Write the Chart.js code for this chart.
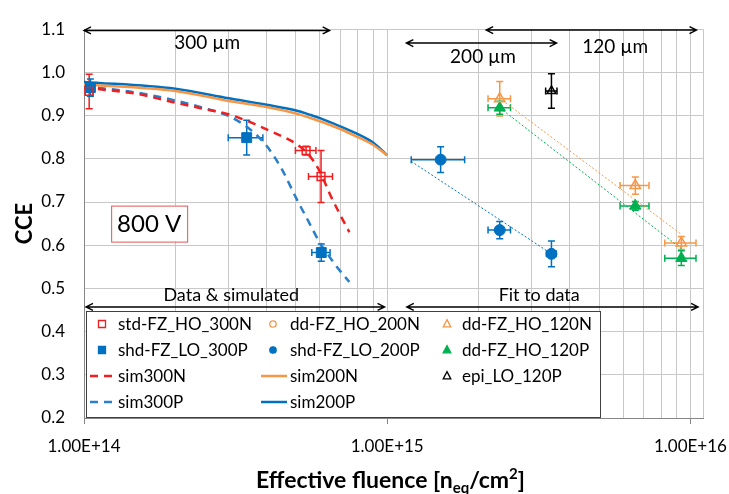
<!DOCTYPE html>
<html>
<head>
<meta charset="utf-8">
<script src="https://cdn.jsdelivr.net/npm/chart.js@4.4.0/dist/chart.umd.min.js"></script>
<style>
  html, body { margin: 0; padding: 0; background: #fff; }
  #wrap { width: 729px; height: 494px; position: relative; }
</style>
</head>
<body>
<div id="wrap"><canvas id="cce"></canvas></div>
<script>
// Werte (x = Fluenz, y = CCE)
const std300N_x  = [1.04e14, 5.4e14, 6.05e14];
const std300N_y  = [0.956, 0.819, 0.759];
const std300N_ex = [0.03e14, 0.42e14, 0.55e14];
const std300N_ey = [0.04, 0.01, 0.06];

const shd300P_x  = [1.05e14, 3.44e14, 6.06e14];
const shd300P_y  = [0.965, 0.849, 0.583];
const shd300P_ex = [0.03e14, 0.45e14, 0.42e14];
const shd300P_ey = [0.02, 0.04, 0.02];

const dd200N_x = [];
const dd200N_y = [];

const shd200P_x  = [1.5e15, 2.35e15, 3.48e15];
const shd200P_y  = [0.798, 0.635, 0.580];
const shd200P_ex = [0.3e15, 0.2e15, 0.13e15];
const shd200P_ey = [0.03, 0.02, 0.03];

const dd120N_x  = [2.35e15, 6.58e15, 9.33e15];
const dd120N_y  = [0.939, 0.738, 0.605];
const dd120N_ex = [0.2e15, 0.72e15, 1.1e15];
const dd120N_ey = [0.04, 0.02, 0.015];

const dd120P_x  = [2.35e15, 6.58e15, 9.33e15];
const dd120P_y  = [0.918, 0.691, 0.570];
const dd120P_ex = [0.2e15, 0.72e15, 1.1e15];
const dd120P_ey = [0.015, 0.01, 0.017];

const epi120P_x  = [3.48e15];
const epi120P_y  = [0.957];
const epi120P_ex = [0.15e15];
const epi120P_ey = [0.04];

// Simulationskurven
const sim300_x  = [1e14, 1.5e14, 2e14, 2.5e14, 3e14, 3.5e14, 4e14, 4.5e14, 5e14, 5.5e14, 6e14, 6.5e14, 7e14, 7.5e14];
const sim300N_y = [0.965, 0.950, 0.930, 0.915, 0.903, 0.886, 0.868, 0.852, 0.835, 0.810, 0.770, 0.715, 0.670, 0.630];
const sim300P_y = [0.968, 0.953, 0.935, 0.917, 0.899, 0.870, 0.830, 0.775, 0.710, 0.655, 0.605, 0.570, 0.540, 0.515];
const sim200_x  = [1e14, 2e14, 3e14, 4e14, 5e14, 6e14, 7e14, 8e14, 9e14, 1e15];
const sim200N_y = [0.972, 0.957, 0.934, 0.920, 0.905, 0.887, 0.869, 0.850, 0.832, 0.808];
const sim200P_y = [0.978, 0.962, 0.940, 0.925, 0.912, 0.894, 0.875, 0.857, 0.837, 0.808];

// lineare Fits (im Log-Plot)
const fit200P_x = [1.2e15, 3.48e15];
const fit200P_y = [0.794, 0.580];
const fit120N_x = [2.4e15, 9.33e15];
const fit120N_y = [0.935, 0.625];
const fit120P_x = [2.35e15, 9.33e15];
const fit120P_y = [0.918, 0.592];

// Achsen
const yTicks = [0.2, 0.3, 0.4, 0.5, 0.6, 0.7, 0.8, 0.9, 1.0, 1.1];
const xDecades = [1e14, 1e15, 1e16];
const xDecadeLabels = ['1.00E+14', '1.00E+15', '1.00E+16'];

function pts(xs, ys) {
  return xs.map((x, i) => ({ x: x, y: ys[i] }));
}

// Minor-Gitter 2..9 pro Dekade + Rand bei 1.1E16
const xTickValues = [];
[1e14, 1e15].forEach(d => { for (let m = 1; m <= 9; m++) xTickValues.push(m * d); });
xTickValues.push(1e16, 1.1e16);

const RED = '#f01e1e', BLUE = '#0070c0', BLUE2 = '#2a7fcb', ORANGE = '#f79646', GREEN = '#00b050';

const datasets = [
  { label: 'std-FZ_HO_300N', data: pts(std300N_x, std300N_y), errX: std300N_ex, errY: std300N_ey,
    pointStyle: 'rect', pointRadius: 5.5, borderColor: RED, backgroundColor: 'rgba(0,0,0,0)', pointBorderWidth: 1.5, showLine: false },
  { label: 'dd-FZ_HO_200N', data: pts(dd200N_x, dd200N_y),
    pointStyle: 'circle', pointRadius: 4, borderColor: ORANGE, backgroundColor: 'rgba(0,0,0,0)', pointBorderWidth: 1.5, showLine: false },
  { label: 'dd-FZ_HO_120N', data: pts(dd120N_x, dd120N_y), errX: dd120N_ex, errY: dd120N_ey,
    pointStyle: 'triangle', pointRadius: 6, borderColor: ORANGE, backgroundColor: 'rgba(0,0,0,0)', pointBorderWidth: 1.5, showLine: false },
  { label: 'shd-FZ_LO_300P', data: pts(shd300P_x, shd300P_y), errX: shd300P_ex, errY: shd300P_ey,
    pointStyle: 'rect', pointRadius: 7, borderColor: BLUE, backgroundColor: BLUE, pointBorderWidth: 1, showLine: false },
  { label: 'shd-FZ_LO_200P', data: pts(shd200P_x, shd200P_y), errX: shd200P_ex, errY: shd200P_ey,
    pointStyle: 'circle', pointRadius: 5.5, borderColor: BLUE, backgroundColor: BLUE, pointBorderWidth: 1, showLine: false },
  { label: 'dd-FZ_HO_120P', data: pts(dd120P_x, dd120P_y), errX: dd120P_ex, errY: dd120P_ey,
    pointStyle: 'triangle', pointRadius: 6.5, borderColor: GREEN, backgroundColor: GREEN, pointBorderWidth: 1, showLine: false },
  { label: 'sim300N', data: pts(sim300_x, sim300N_y), borderColor: RED, borderWidth: 2.5, borderDash: [8, 6],
    pointRadius: 0, showLine: true, cubicInterpolationMode: 'monotone' },
  { label: 'sim200N', data: pts(sim200_x, sim200N_y), borderColor: ORANGE, borderWidth: 2.5,
    pointRadius: 0, showLine: true, cubicInterpolationMode: 'monotone' },
  { label: 'epi_LO_120P', data: pts(epi120P_x, epi120P_y), errX: epi120P_ex, errY: epi120P_ey,
    pointStyle: 'triangle', pointRadius: 5, borderColor: '#000', backgroundColor: 'rgba(0,0,0,0)', pointBorderWidth: 1.5, showLine: false },
  { label: 'sim300P', data: pts(sim300_x, sim300P_y), borderColor: BLUE2, borderWidth: 2.5, borderDash: [8, 6],
    pointRadius: 0, showLine: true, cubicInterpolationMode: 'monotone' },
  { label: 'sim200P', data: pts(sim200_x, sim200P_y), borderColor: BLUE, borderWidth: 2.5,
    pointRadius: 0, showLine: true, cubicInterpolationMode: 'monotone' },
  { label: 'fit200P', data: pts(fit200P_x, fit200P_y), borderColor: BLUE, borderWidth: 1, borderDash: [2, 2],
    pointRadius: 0, showLine: true, noLegend: true },
  { label: 'fit120N', data: pts(fit120N_x, fit120N_y), borderColor: ORANGE, borderWidth: 1, borderDash: [2, 2],
    pointRadius: 0, showLine: true, noLegend: true },
  { label: 'fit120P', data: pts(fit120P_x, fit120P_y), borderColor: GREEN, borderWidth: 1, borderDash: [2, 2],
    pointRadius: 0, showLine: true, noLegend: true }
];

// Reihenfolge wie in der Excel-Legende (zeilenweise, 3 Spalten)
const legendOrder = ['std-FZ_HO_300N', 'dd-FZ_HO_200N', 'dd-FZ_HO_120N',
                     'shd-FZ_LO_300P', 'shd-FZ_LO_200P', 'dd-FZ_HO_120P',
                     'sim300N', 'sim200N', 'epi_LO_120P',
                     'sim300P', 'sim200P'];

const FONT = 'Lato, "Open Sans", sans-serif';

function marker(ctx, style, x, y, r, stroke, fill, lw) {
  ctx.save();
  ctx.lineWidth = lw;
  ctx.strokeStyle = stroke;
  ctx.fillStyle = fill;
  ctx.beginPath();
  if (style === 'rect') {
    ctx.rect(x - r, y - r, 2 * r, 2 * r);
  } else if (style === 'circle') {
    ctx.arc(x, y, r, 0, Math.PI * 2);
  } else {
    ctx.moveTo(x, y - r * 1.15);
    ctx.lineTo(x + r, y + r * 0.75);
    ctx.lineTo(x - r, y + r * 0.75);
    ctx.closePath();
  }
  ctx.fill();
  ctx.stroke();
  ctx.restore();
}

function arrow(ctx, x1, x2, y) {
  ctx.save();
  ctx.strokeStyle = '#000';
  ctx.lineWidth = 1.4;
  ctx.beginPath();
  ctx.moveTo(x1, y); ctx.lineTo(x2, y);
  ctx.moveTo(x1 + 7, y - 3.5); ctx.lineTo(x1, y); ctx.lineTo(x1 + 7, y + 3.5);
  ctx.moveTo(x2 - 7, y - 3.5); ctx.lineTo(x2, y); ctx.lineTo(x2 - 7, y + 3.5);
  ctx.stroke();
  ctx.restore();
}

const extras = {
  id: 'extras',
  beforeDatasetsDraw(chart) {
    // Fehlerbalken
    const ctx = chart.ctx, sx = chart.scales.x, sy = chart.scales.y;
    chart.data.datasets.forEach(ds => {
      if (!ds.errX) return;
      ctx.save();
      ctx.strokeStyle = ds.borderColor;
      ctx.lineWidth = 1.5;
      ds.data.forEach((p, i) => {
        const px = sx.getPixelForValue(p.x), py = sy.getPixelForValue(p.y);
        const x1 = sx.getPixelForValue(p.x - ds.errX[i]), x2 = sx.getPixelForValue(p.x + ds.errX[i]);
        const y1 = sy.getPixelForValue(p.y + ds.errY[i]), y2 = sy.getPixelForValue(p.y - ds.errY[i]);
        ctx.beginPath();
        ctx.moveTo(x1, py); ctx.lineTo(x2, py);
        ctx.moveTo(x1, py - 3.5); ctx.lineTo(x1, py + 3.5);
        ctx.moveTo(x2, py - 3.5); ctx.lineTo(x2, py + 3.5);
        ctx.moveTo(px, y1); ctx.lineTo(px, y2);
        ctx.moveTo(px - 3.5, y1); ctx.lineTo(px + 3.5, y1);
        ctx.moveTo(px - 3.5, y2); ctx.lineTo(px + 3.5, y2);
        ctx.stroke();
      });
      ctx.restore();
    });
  },
  afterDraw(chart) {
    const ctx = chart.ctx, sx = chart.scales.x, sy = chart.scales.y, area = chart.chartArea;
    const X = v => sx.getPixelForValue(v), Y = v => sy.getPixelForValue(v);

    // Pfeile + Beschriftungen
    ctx.save();
    ctx.fillStyle = '#000';
    ctx.textAlign = 'center';
    ctx.textBaseline = 'middle';
    arrow(ctx, X(1e14), X(6.46e14), Y(1.097));
    arrow(ctx, X(1.156e15), X(3.62e15), Y(1.068));
    arrow(ctx, X(2.12e15), X(1.047e16), Y(1.098));
    ctx.font = '19px ' + FONT;
    ctx.fillText('300 µm', X(2.55e14), Y(1.069));
    ctx.fillText('200 µm', X(2.07e15), Y(1.035));
    ctx.fillText('120 µm', X(5.65e15), Y(1.06));
    arrow(ctx, X(1.0e14) + 2, X(9.8e14), Y(0.457));
    arrow(ctx, X(1.16e15), X(1.06e16), Y(0.457));
    ctx.font = '18px ' + FONT;
    ctx.fillText('Data & simulated', X(3.06e14), Y(0.484));
    ctx.fillText('Fit to data', X(3.17e15), Y(0.484));

    // "800 V" Kasten
    const bx = X(1.64e14), by = Y(0.65);
    ctx.fillStyle = '#fff';
    ctx.fillRect(bx - 38, by - 18, 76, 36);
    ctx.strokeStyle = '#e25555';
    ctx.lineWidth = 1;
    ctx.strokeRect(bx - 38 + 0.5, by - 18 + 0.5, 76, 36);
    ctx.fillStyle = '#000';
    ctx.font = '24px ' + FONT;
    ctx.fillText('800 V', bx, by + 1);
    ctx.restore();

    // Legende
    const lx = area.left + 2, lt = area.bottom - 107, lw = 514, lh = 106;
    ctx.save();
    ctx.fillStyle = '#fff';
    ctx.fillRect(lx, lt, lw, lh);
    ctx.strokeStyle = '#404040';
    ctx.lineWidth = 1;
    ctx.strokeRect(lx + 0.5, lt + 0.5, lw, lh);
    const colM = [16, 187, 361], colT = [32, 204, 376], rowY = [13, 39, 65, 91];
    ctx.font = '17px ' + FONT;
    ctx.textBaseline = 'middle';
    ctx.textAlign = 'left';
    legendOrder.forEach((name, k) => {
      const ds = chart.data.datasets.find(d => d.label === name);
      const c = k % 3, r = Math.floor(k / 3);
      const mx = lx + colM[c], my = lt + rowY[r];
      if (ds.showLine) {
        ctx.save();
        ctx.strokeStyle = ds.borderColor;
        ctx.lineWidth = 2.5;
        ctx.setLineDash(ds.borderDash ? [8, 6] : []);
        ctx.beginPath();
        ctx.moveTo(mx - 12, my); ctx.lineTo(mx + 14, my);
        ctx.stroke();
        ctx.restore();
      } else {
        const rr = ds.pointStyle === 'triangle' ? 3.8 : (ds.pointStyle === 'circle' ? 3.2 : 3.5);
        marker(ctx, ds.pointStyle, mx, my, rr, ds.borderColor, ds.backgroundColor, 1.3);
      }
      ctx.fillStyle = '#000';
      ctx.fillText(name, lx + colT[c], my + 1);
    });
    ctx.restore();

    // Achsentitel
    ctx.save();
    ctx.fillStyle = '#000';
    ctx.textBaseline = 'alphabetic';
    ctx.textAlign = 'left';
    const big = 'bold 23px ' + FONT, small = 'bold 15px ' + FONT;
    const parts = [['Effective fluence [n', big, 0], ['eq', small, 5], ['/cm', big, 0], ['2', small, -9], [']', big, 0]];
    let tw = 0;
    parts.forEach(p => { ctx.font = p[1]; tw += ctx.measureText(p[0]).width; });
    let cx = (area.left + area.right) / 2 - 3 - tw / 2;
    const base = 488;
    parts.forEach(p => {
      ctx.font = p[1];
      ctx.fillText(p[0], cx, base + p[2]);
      cx += ctx.measureText(p[0]).width;
    });
    ctx.translate(25, (area.top + area.bottom) / 2);
    ctx.rotate(-Math.PI / 2);
    ctx.textAlign = 'center';
    ctx.textBaseline = 'middle';
    ctx.font = 'bold 22px ' + FONT;
    ctx.fillText('CCE', 0, 0);
    ctx.restore();
  }
};

Chart.defaults.font.family = FONT;
Chart.defaults.color = '#000';

new Chart(document.getElementById('cce'), {
  type: 'scatter',
  data: { datasets: datasets },
  options: {
    responsive: true,
    maintainAspectRatio: false,
    animation: false,
    layout: { padding: { top: 19, right: 26, left: 0, bottom: 0 } },
    plugins: { legend: { display: false }, tooltip: { enabled: false } },
    scales: {
      x: {
        type: 'logarithmic',
        min: 1e14,
        max: 1.1e16,
        afterBuildTicks: s => { s.ticks = xTickValues.map(v => ({ value: v })); },
        afterFit: s => { s.height = 76; },
        ticks: {
          autoSkip: false, maxRotation: 0, minRotation: 0, padding: 12,
          font: { size: 17 },
          callback: v => {
            const k = xDecades.findIndex(d => Math.abs(v / d - 1) < 1e-9);
            return k >= 0 ? xDecadeLabels[k] : '';
          }
        },
        grid: {
          color: '#c8c8c8',
          tickLength: 6,
          tickColor: c => (c.tick && xDecades.some(d => Math.abs(c.tick.value / d - 1) < 1e-9)) ? '#868686' : 'rgba(0,0,0,0)'
        },
        border: { color: '#868686' }
      },
      y: {
        min: 0.2,
        max: 1.1,
        afterBuildTicks: s => { s.ticks = yTicks.map(v => ({ value: v })); },
        afterFit: s => { s.width = 84; },
        ticks: { padding: 19, font: { size: 17 }, callback: v => v.toFixed(1) },
        grid: { color: '#c8c8c8', drawTicks: false },
        border: { color: '#868686' }
      }
    }
  },
  plugins: [extras]
});
</script>
</body>
</html>
